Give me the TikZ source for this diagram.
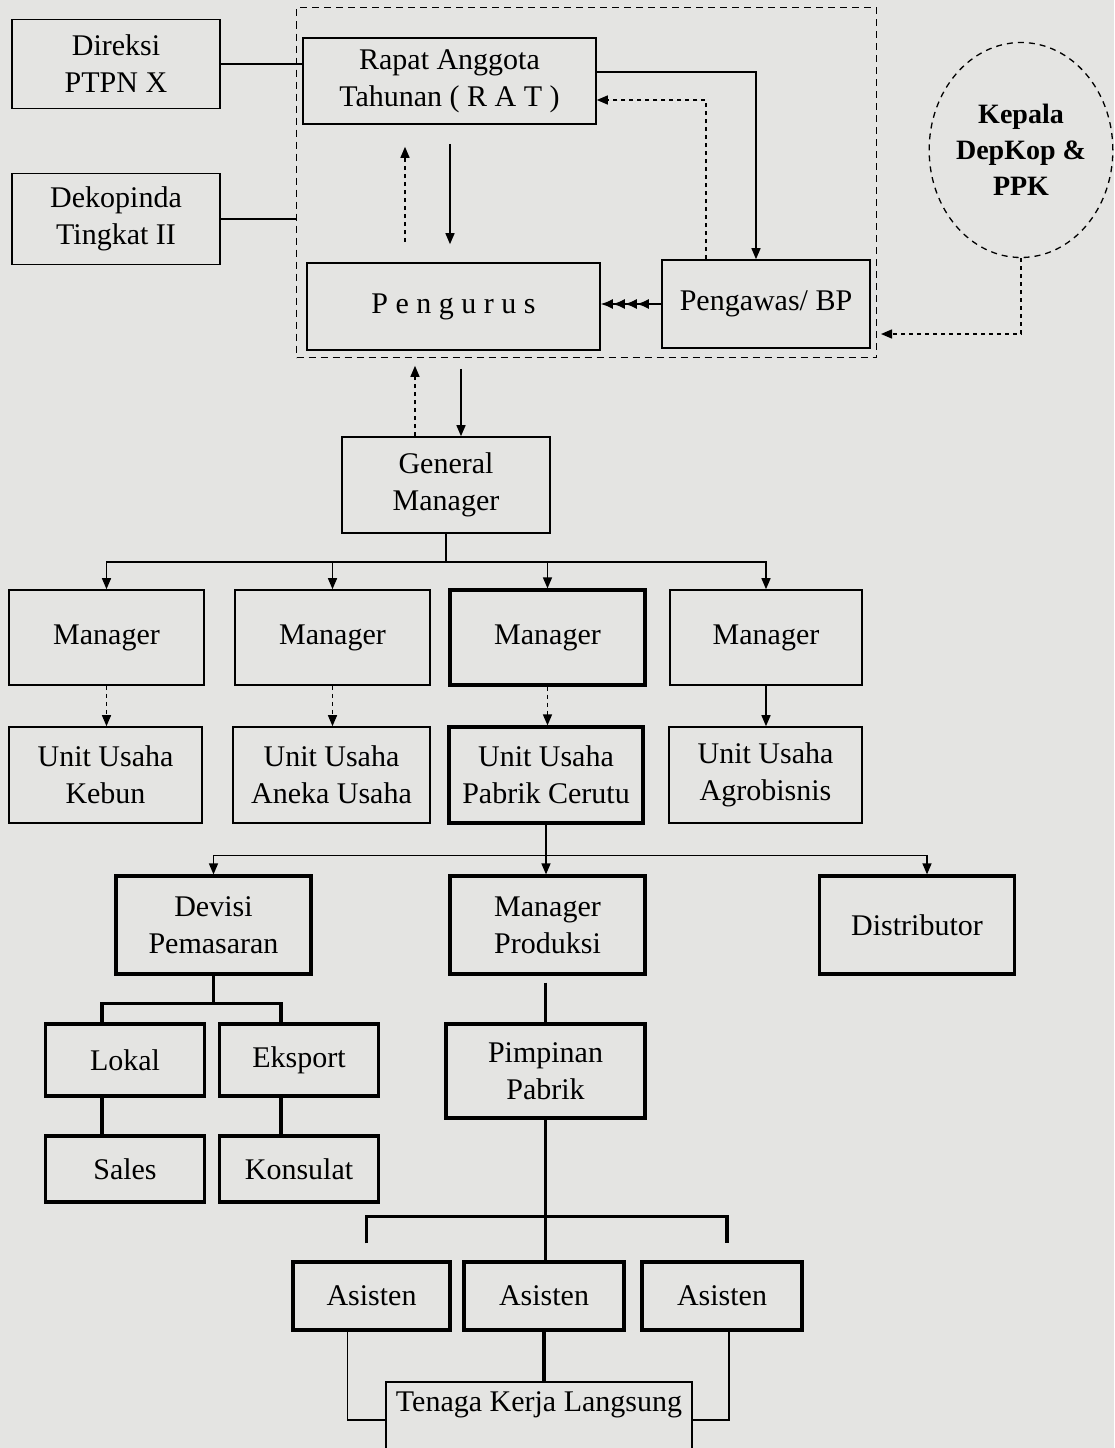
\documentclass[tikz,border=0pt]{standalone}
\usepackage{fontspec}
\setmainfont{Liberation Serif}
\usetikzlibrary{arrows.meta,shapes.geometric}
\definecolor{paper}{RGB}{228,228,226}

\begin{document}
\begin{tikzpicture}[x=1pt,y=-1pt,
	box/.style={draw,line width=1.6pt,align=center,inner sep=2pt,font=\fontsize{30}{37}\selectfont},
	heavybox/.style={box,line width=3.2pt},
	grpbox/.style={draw,line width=1.5pt,dash pattern=on 7pt off 5pt},
	link/.style={line width=1.4pt},
	heavylink/.style={line width=3.5pt},
	dotlink/.style={line width=1.4pt,dash pattern=on 4pt off 4pt},
	tip/.style={-{Triangle[length=11pt,width=9pt]}},
	]
	\clip (0,0) rectangle (1114,1448);
	\fill[paper] (0,0) rectangle (1114,1448);
	\node (grp) at (586.5,182.5) [grpbox,minimum width=580,minimum height=350] {};
	\node (dir) at (116,64) [box,minimum width=208,minimum height=89] {Direksi\\PTPN X};
	\node (dek) at (116,219) [box,minimum width=208,minimum height=91] {Dekopinda\\Tingkat II};
	\node (rat) at (449.5,81) [box,minimum width=293,minimum height=86] {Rapat Anggota\\Tahunan ( R A T )};
	\node (peng) at (453.5,306.5) [box,minimum width=293,minimum height=87] {P e n g u r u s};
	\node (pengawas) at (766,304) [box,minimum width=208,minimum height=88] {Pengawas/ BP};
	\node (kepala) at (1021,150) [ellipse,draw,line width=1.3pt,dash pattern=on 6pt off 5pt,minimum width=170,minimum height=215,inner sep=0pt,align=center,font=\fontsize{28}{36}\selectfont\bfseries] {Kepala\\DepKop \&\\PPK};
	\coordinate (kin) at (881,334);
	\node (gm) at (446,485) [box,minimum width=208,minimum height=96] {General\\Manager};
	\node (m1) at (106.5,637.5) [box,minimum width=195,minimum height=95] {Manager};
	\node (m2) at (332.5,637.5) [box,minimum width=195,minimum height=95] {Manager};
	\node (m3) at (547.5,637.5) [heavybox,minimum width=195,minimum height=95] {Manager};
	\node (m4) at (766,637.5) [box,minimum width=192,minimum height=95] {Manager};
	\node (u1) at (105.5,775) [box,minimum width=193,minimum height=96] {Unit Usaha\\Kebun};
	\node (u2) at (331.5,775) [box,minimum width=197,minimum height=96] {Unit Usaha\\Aneka Usaha};
	\node (u3) at (546,775) [heavybox,minimum width=194,minimum height=96] {Unit Usaha\\Pabrik Cerutu};
	\node (u4) at (765.5,775) [box,minimum width=193,minimum height=96] {Unit Usaha\\Agrobisnis};
	\node (dev) at (213.5,925) [heavybox,minimum width=195,minimum height=98] {Devisi\\Pemasaran};
	\node (mp) at (547.5,925) [heavybox,minimum width=195,minimum height=98] {Manager\\Produksi};
	\node (dist) at (917,925) [heavybox,minimum width=195,minimum height=98] {Distributor};
	\node (lok) at (125,1060) [heavybox,minimum width=159,minimum height=72] {Lokal};
	\node (eks) at (299,1060) [heavybox,minimum width=159,minimum height=72] {Eksport};
	\node (sal) at (125,1169) [heavybox,minimum width=159,minimum height=66] {Sales};
	\node (kon) at (299,1169) [heavybox,minimum width=159,minimum height=66] {Konsulat};
	\node (pim) at (545.5,1071) [heavybox,minimum width=199,minimum height=94] {Pimpinan\\Pabrik};
	\node (a1) at (371.5,1296) [heavybox,minimum width=157,minimum height=68] {Asisten};
	\node (a2) at (544,1296) [heavybox,minimum width=160,minimum height=68] {Asisten};
	\node (a3) at (722,1296) [heavybox,minimum width=160,minimum height=68] {Asisten};
	\node (tkl) at (539,1381) [box,anchor=north,minimum width=306,text height=28pt,text depth=56pt] {Tenaga Kerja Langsung};

	\draw[link] (dir.east) -- (dir.east -| rat.west);
	\draw[link] (dek.east) -- (dek.east -| grp.west);
	\draw[dotlink,tip,shorten <=20pt,shorten >=22pt] ([xshift=-48.5pt]peng.north) -- ([xshift=-48.5pt]peng.north |- rat.south);
	\draw[link,tip,shorten <=19pt,shorten >=18pt] ([xshift=-3.5pt]peng.north |- rat.south) -- ([xshift=-3.5pt]peng.north);
	\draw[link,tip] ([yshift=9pt]rat.east) -| ([xshift=-10pt]pengawas.north);
	\draw[dotlink,tip] ([xshift=-60pt]pengawas.north) |- ([yshift=-19pt]rat.east);
	\draw[link,-{Latex[length=12pt,width=10pt]Latex[length=12pt,width=10pt]Latex[length=12pt,width=10pt]Latex[length=12pt,width=10pt]}] (pengawas.west) -- (pengawas.west -| peng.east);
	\draw[dotlink,tip] (kepala.south) |- (kin);
	\draw[dotlink,tip,shorten >=15pt] ([xshift=-31pt]gm.north) -- ([xshift=-31pt]gm.north |- peng.south);
	\draw[link,tip,shorten <=18pt] ([xshift=15pt]gm.north |- peng.south) -- ([xshift=15pt]gm.north);

	\foreach \m in {m1,m2,m3,m4}
		\draw[link,tip] (gm.south) -- ++(0,28) -| (\m.north);
	\foreach \m/\u in {m1/u1,m2/u2,m3/u3}
		\draw[dotlink,tip] (\m.south) -- (\m.south |- \u.north);
	\draw[link,tip] (m4.south) -- (m4.south |- u4.north);

	\draw[link,tip] (u3.south) -- ++(0,31) -| (dev.north);
	\draw[link,tip] (u3.south) -- (u3.south |- mp.north);
	\draw[link,tip] (u3.south) -- ++(0,31) -| ([xshift=10pt]dist.north);

	\draw[heavylink] (dev.south) -- ++(0,28) -| ([xshift=-23pt]lok.north);
	\draw[heavylink] (dev.south) -- ++(0,28) -| ([xshift=-18pt]eks.north);
	\draw[heavylink] ([xshift=-23pt]lok.south) -- ([xshift=-23pt]sal.north);
	\draw[heavylink] ([xshift=-18pt]eks.south) -- ([xshift=-18pt]kon.north);

	\draw[heavylink,shorten <=7pt] (pim.north |- mp.south) -- (pim.north);
	\draw[heavylink] (pim.south) -- (pim.south |- a2.north);
	\draw[heavylink] ([xshift=-5pt,yshift=17pt]a1.north) -- ++(0,-27) -| ([xshift=5pt,yshift=17pt]a3.north);
	\draw[link] ([xshift=-24pt]a1.south) |- ([yshift=6pt]tkl.west);
	\draw[link] ([xshift=7pt]a3.south) |- ([yshift=6pt]tkl.east);
	\draw[heavylink] (a2.south) -- (a2.south |- tkl.north);
\end{tikzpicture}
\end{document}
